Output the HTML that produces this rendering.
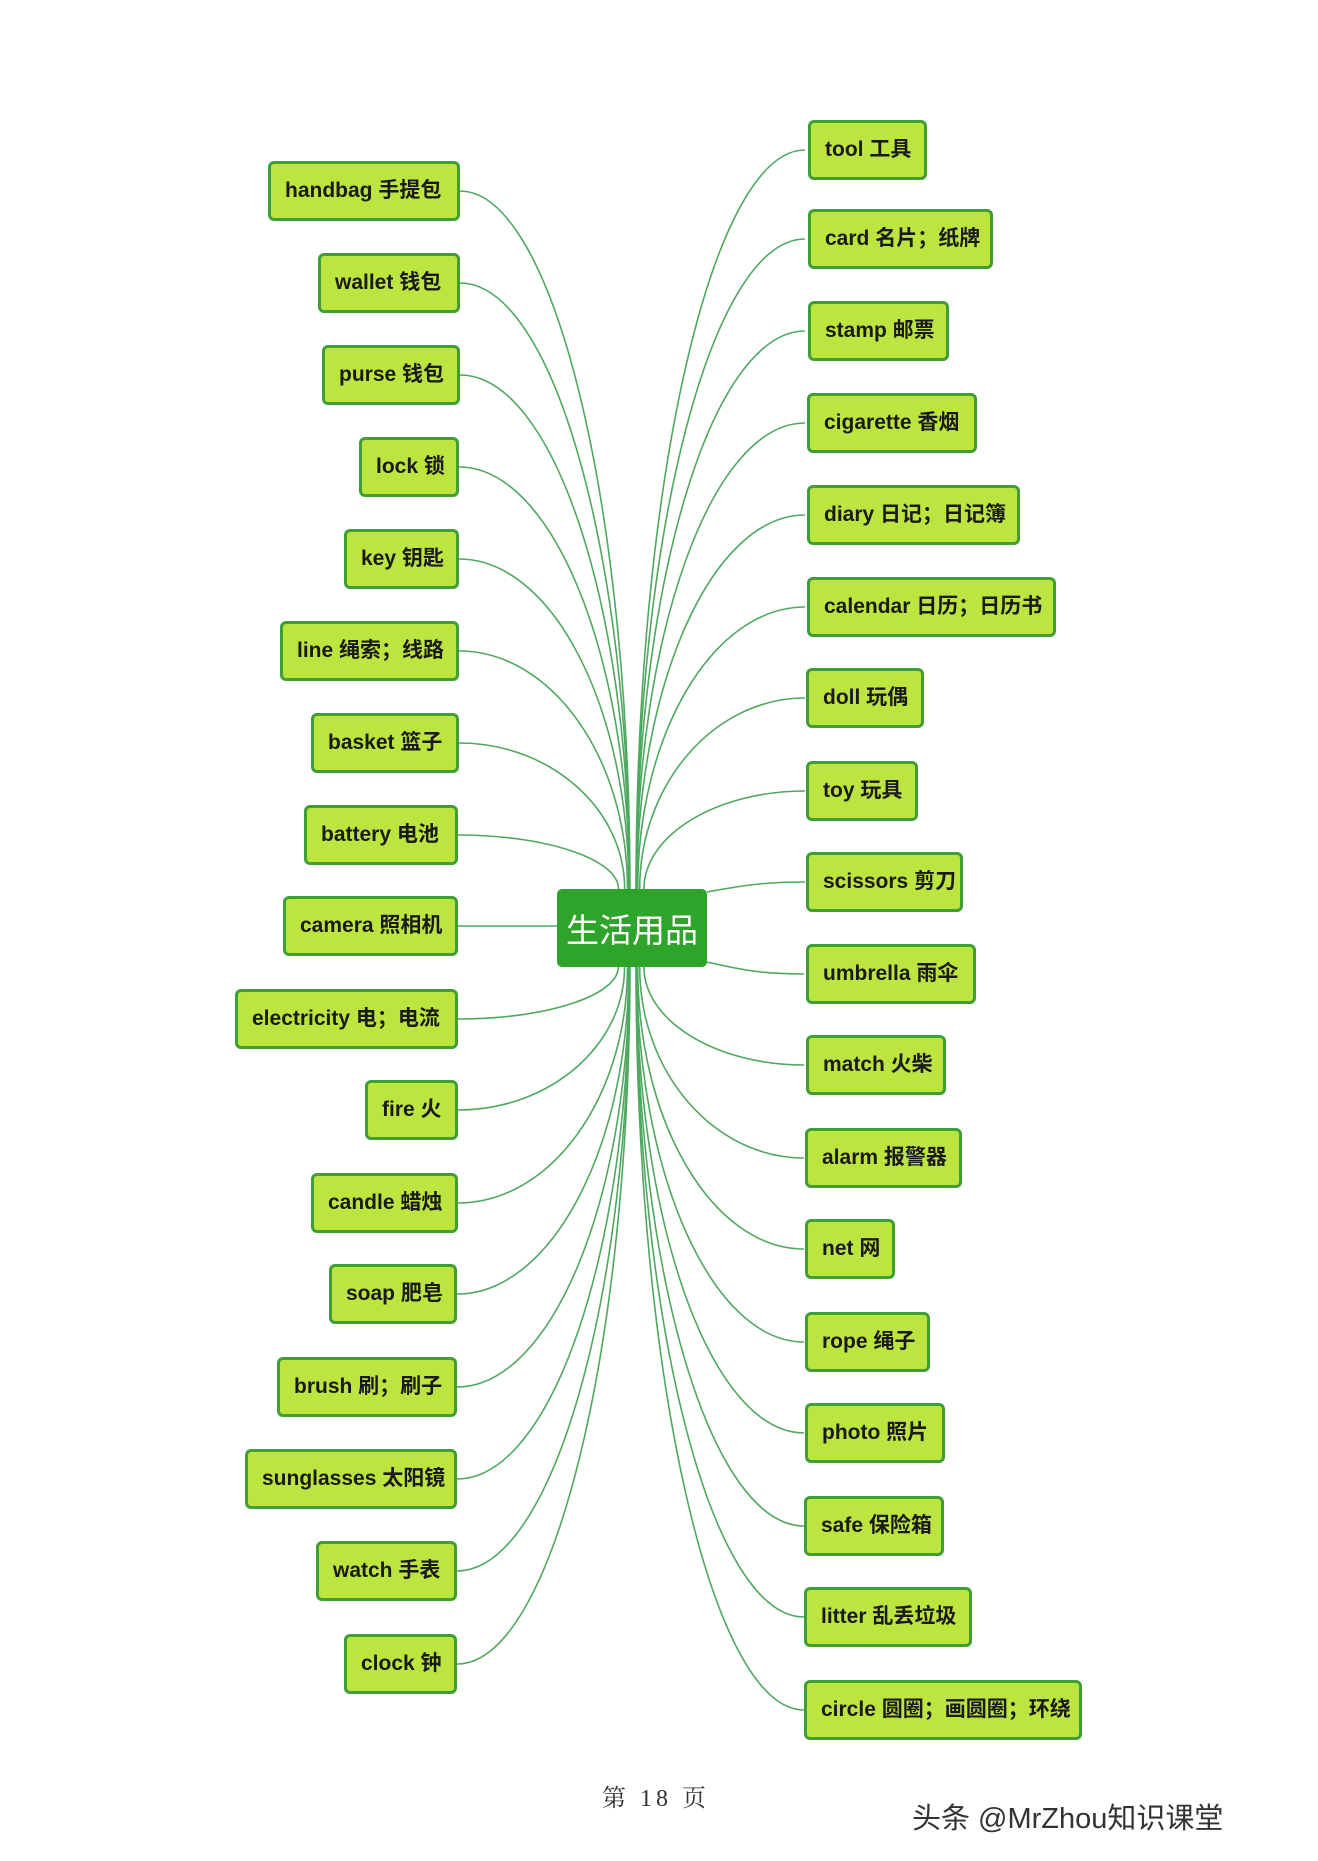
<!DOCTYPE html>
<html><head><meta charset="utf-8">
<style>
html,body{margin:0;padding:0;background:#fff;}
#c{position:relative;width:1318px;height:1861px;overflow:hidden;background:#fff;}
.b{position:absolute;height:60px;margin-top:-3px;box-sizing:border-box;border:3px solid #3f9f35;border-radius:6px;background:#bde53f;font-family:"Liberation Sans","Noto Sans CJK SC",sans-serif;font-weight:bold;font-size:21px;color:#1a1a1a;line-height:54px;padding-left:14px;white-space:nowrap;}
#center{position:absolute;left:557px;top:889px;width:150px;height:78px;background:#2fa42b;border-radius:5px;color:#fff;font-family:"Noto Sans CJK SC",sans-serif;font-size:33px;line-height:78px;text-align:center;}
svg{position:absolute;left:0;top:0;}
</style></head><body><div id="c">
<svg id="s" width="1318" height="1861"></svg>
<div id="center">生活用品</div>

<div class="b" style="left:268px;top:164px;width:192px">handbag 手提包</div>
<div class="b" style="left:318px;top:256px;width:142px">wallet 钱包</div>
<div class="b" style="left:322px;top:348px;width:138px">purse 钱包</div>
<div class="b" style="left:359px;top:440px;width:100px">lock 锁</div>
<div class="b" style="left:344px;top:532px;width:115px">key 钥匙</div>
<div class="b" style="left:280px;top:624px;width:179px">line 绳索；线路</div>
<div class="b" style="left:311px;top:716px;width:148px">basket 篮子</div>
<div class="b" style="left:304px;top:808px;width:154px">battery 电池</div>
<div class="b" style="left:283px;top:899px;width:175px">camera 照相机</div>
<div class="b" style="left:235px;top:992px;width:223px">electricity 电；电流</div>
<div class="b" style="left:365px;top:1083px;width:93px">fire 火</div>
<div class="b" style="left:311px;top:1176px;width:147px">candle 蜡烛</div>
<div class="b" style="left:329px;top:1267px;width:128px">soap 肥皂</div>
<div class="b" style="left:277px;top:1360px;width:180px">brush 刷；刷子</div>
<div class="b" style="left:245px;top:1452px;width:212px">sunglasses 太阳镜</div>
<div class="b" style="left:316px;top:1544px;width:141px">watch 手表</div>
<div class="b" style="left:344px;top:1637px;width:113px">clock 钟</div>

<div class="b" style="left:808px;top:123px;width:119px">tool 工具</div>
<div class="b" style="left:808px;top:212px;width:185px">card 名片；纸牌</div>
<div class="b" style="left:808px;top:304px;width:141px">stamp 邮票</div>
<div class="b" style="left:807px;top:396px;width:170px">cigarette 香烟</div>
<div class="b" style="left:807px;top:488px;width:213px">diary 日记；日记簿</div>
<div class="b" style="left:807px;top:580px;width:249px">calendar 日历；日历书</div>
<div class="b" style="left:806px;top:671px;width:118px">doll 玩偶</div>
<div class="b" style="left:806px;top:764px;width:112px">toy 玩具</div>
<div class="b" style="left:806px;top:855px;width:157px">scissors 剪刀</div>
<div class="b" style="left:806px;top:947px;width:170px">umbrella 雨伞</div>
<div class="b" style="left:806px;top:1038px;width:140px">match 火柴</div>
<div class="b" style="left:805px;top:1131px;width:157px">alarm 报警器</div>
<div class="b" style="left:805px;top:1222px;width:90px">net 网</div>
<div class="b" style="left:805px;top:1315px;width:125px">rope 绳子</div>
<div class="b" style="left:805px;top:1406px;width:140px">photo 照片</div>
<div class="b" style="left:804px;top:1499px;width:140px">safe 保险箱</div>
<div class="b" style="left:804px;top:1590px;width:168px">litter 乱丢垃圾</div>
<div class="b" style="left:804px;top:1683px;width:278px">circle 圆圈；画圆圈；环绕</div>

<div style="position:absolute;left:600px;top:1778px;width:112px;text-align:center;font-family:'Liberation Serif','Noto Serif CJK SC',serif;font-size:24px;color:#333;letter-spacing:4px;">第 18 页</div>
<div style="position:absolute;left:912px;top:1795px;font-family:'Liberation Sans','Noto Sans CJK SC',sans-serif;font-size:29px;color:#333;white-space:nowrap;">头条 @MrZhou知识课堂</div>
</div>
<script>
var L=[[460,191],[460,283],[460,375],[459,467],[459,559],[459,651],[459,743],[458,835],[458,926],[458,1019],[458,1110],[458,1203],[457,1294],[457,1387],[457,1479],[457,1571],[457,1664]];
var R=[150,239,331,423,515,607,698,791,882,974,1065,1158,1249,1342,1433,1526,1617,1710];
var s=document.getElementById('s'),h='';
function p(x1,y1,xe,ye){var d='M'+x1+' '+y1+' C'+(x1+(xe-x1)*0.55)+' '+y1+' '+xe+' '+(y1+(ye-y1)*0.45)+' '+xe+' '+ye;h+='<path d="'+d+'" fill="none" stroke="#4fa860" stroke-width="1.6"/>';}
L.forEach(function(a){var x=a[0],y=a[1];if(Math.abs(y-926)<10){h+='<line x1="'+x+'" y1="'+y+'" x2="557" y2="'+y+'" stroke="#4fa860" stroke-width="1.6"/>';return;}var up=y<926,ye=up?889:967,dy=Math.abs(y-ye);var xe=630-18*Math.exp(-dy/120);p(x,y,xe,ye);});
R.forEach(function(y,i){var x=805-(i>8?1:0);if(y==882){h+='<path d="M707 892 C750 884 770 882 '+x+' 882" fill="none" stroke="#4fa860" stroke-width="1.6"/>';return;}if(y==974){h+='<path d="M707 962 C750 972 770 974 '+x+' 974" fill="none" stroke="#4fa860" stroke-width="1.6"/>';return;}var up=y<926,ye=up?889:967,dy=Math.abs(y-ye);var xe=636+18*Math.exp(-dy/120);p(x,y,xe,ye);});
s.innerHTML=h;
</script>
</body></html>
